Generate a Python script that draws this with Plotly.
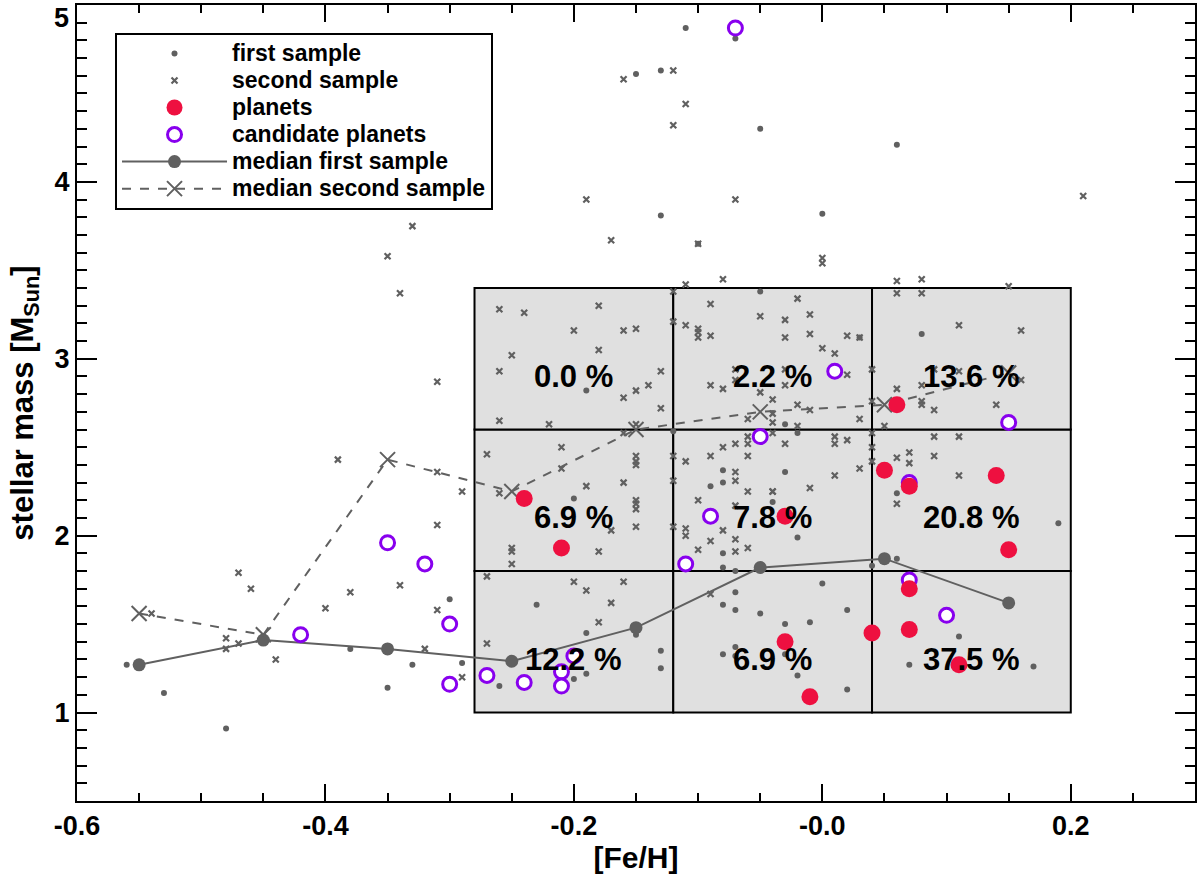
import plotly.graph_objects as go

# [Fe/H] vs stellar mass
first_feh = [-0.56, -0.53, -0.48, -0.38, -0.35, -0.33, -0.30, -0.29,
             -0.07, -0.11, -0.15, -0.13, -0.05, 0.06, -0.13, 0.0, -0.10, -0.05,
             -0.19, -0.12, -0.20, -0.08, -0.08, -0.09, -0.08, -0.08, -0.07, -0.23,
             -0.19, -0.15, -0.13, -0.13, -0.19, -0.20, -0.26, -0.07, -0.08, -0.07,
             -0.05, -0.08, -0.07, -0.07,
             0.03, -0.03, -0.02, -0.03, -0.02, -0.04, 0.08, 0.06, 0.19, 0.06, 0.04,
             0.0, 0.02, -0.03, -0.01, -0.03, -0.02, 0.02, 0.11, 0.07, 0.17]
first_mass = [1.27, 1.11, 0.91, 1.36, 1.14, 1.27, 1.64, 1.28,
              4.81, 4.87, 4.61, 4.63, 4.30, 4.21, 3.81, 3.82, 3.65, 3.38,
              2.82, 2.59, 2.21, 2.37, 2.30, 2.28, 1.90, 1.82, 1.80, 1.61,
              1.45, 1.44, 1.35, 1.25, 1.22, 1.19, 1.15, 1.68, 1.61, 1.58,
              1.56, 1.33, 1.37, 1.32,
              3.12, 2.63, 2.58, 2.36, 1.99, 2.19, 3.14, 2.24, 2.07, 1.87, 1.83,
              1.73, 1.58, 1.50, 1.51, 1.33, 1.21, 1.13, 1.43, 1.27, 1.26]

second_feh = [-0.33, -0.35, -0.34, -0.31, -0.39, -0.31, -0.29, -0.31, -0.47, -0.46,
              -0.34, -0.38, -0.40, -0.31, -0.54, -0.48, -0.48, -0.47, -0.44, -0.32, -0.29,
              -0.16, -0.12, -0.11, -0.12, -0.19, -0.07, 0.21, -0.17, -0.10, 0.0, 0.0,
              -0.08, -0.11, 0.06, 0.08, 0.15, -0.12, 0.06, 0.08, -0.02,
              -0.26, -0.24, -0.18, -0.20, -0.16, -0.15, -0.18, -0.25, -0.26, -0.13,
              -0.14, -0.15, -0.16, -0.13, -0.26, -0.22, -0.12, -0.11, -0.10, -0.10,
              -0.10, -0.09, -0.09, -0.05, -0.09, -0.08, -0.07, -0.07, -0.05, -0.06,
              -0.16, -0.15, -0.27, -0.21, -0.21, -0.15, -0.15, -0.15, -0.26, -0.19,
              -0.16, -0.15, -0.15, -0.15, -0.15, -0.17, -0.25, -0.25, -0.25, -0.18,
              -0.12, -0.12, -0.12, -0.11, -0.11, -0.11, -0.10, -0.09, -0.08, -0.07,
              -0.06, -0.06, -0.06, -0.07, -0.07, -0.06, -0.04, -0.07, -0.08, -0.09,
              -0.07, -0.06, -0.07, -0.10, -0.27, -0.20, -0.19, -0.16, -0.17, -0.18,
              -0.27, -0.09,
              -0.03, -0.01, -0.03, -0.01, 0.0, 0.01, 0.02, 0.03, -0.03, -0.03, 0.02,
              0.04, -0.04, -0.04, -0.04, -0.02, -0.01, 0.03, 0.04, -0.02, -0.04, -0.03,
              0.01, 0.01, 0.02, 0.04, 0.04, 0.04, 0.03, 0.01, -0.04, -0.01, 0.05, 0.06,
              0.08, 0.08, 0.08, 0.09, 0.09, 0.11, 0.11, 0.14, 0.16, 0.16, 0.09, 0.11,
              0.06, 0.07, 0.07, 0.09, 0.11, 0.06]
second_mass = [3.75, 3.58, 3.37, 2.87, 2.43, 2.36, 2.25, 2.06, 1.79, 1.70,
               1.72, 1.68, 1.59, 1.58, 1.56, 1.42, 1.36, 1.39, 1.30, 1.36, 1.20,
               4.58, 4.63, 4.44, 4.32, 3.90, 3.90, 3.92, 3.67, 3.65, 3.57, 3.54,
               3.45, 3.42, 3.44, 3.45, 3.41, 3.38, 3.37, 3.37, 3.34,
               3.28, 3.26, 3.30, 3.16, 3.16, 3.17, 3.05, 3.02, 2.93, 2.93,
               2.85, 2.82, 2.78, 2.72, 2.65, 2.63, 3.21, 3.19, 3.17, 3.15,
               3.12, 3.13, 3.31, 3.24, 2.85, 2.83, 2.94, 2.88, 2.81, 2.66,
               2.58, 2.63, 2.46, 2.50, 2.38, 2.45, 2.42, 2.40, 2.24, 2.28,
               2.30, 2.20, 2.18, 2.15, 2.05, 2.03, 1.93, 1.91, 1.84, 1.91,
               2.45, 2.31, 2.05, 2.42, 2.04, 2.00, 2.20, 2.45, 2.50, 2.52,
               2.56, 2.52, 2.45, 2.36, 2.31, 2.25, 2.25, 2.17, 2.03, 1.97,
               1.98, 1.93, 1.91, 1.92, 1.77, 1.74, 1.69, 1.74, 1.62, 1.51,
               1.39, 1.67,
               3.22, 3.25, 3.12, 3.14, 3.06, 3.03, 3.13, 3.12, 2.94, 2.85, 2.91,
               2.94, 2.77, 2.69, 2.64, 2.74, 2.71, 2.66, 2.76, 2.62, 2.58, 2.52,
               2.56, 2.52, 2.54, 2.58, 2.50, 2.42, 2.38, 2.34, 2.25, 2.27, 2.62, 2.83,
               2.85, 2.76, 2.74, 2.71, 2.94, 2.93, 3.19, 2.74, 3.16, 2.88, 2.56, 2.56,
               2.44, 2.47, 2.41, 2.45, 2.34, 2.18]

planet_feh = [-0.24, -0.21, 0.06, 0.05, 0.07, 0.14, 0.15, -0.03, 0.07, 0.04, 0.07, -0.03, 0.11, -0.01]
planet_mass = [2.21, 1.93, 2.74, 2.37, 2.28, 2.34, 1.92, 2.11, 1.70, 1.45, 1.47, 1.40, 1.27, 1.09]

cand_feh = [-0.42, -0.35, -0.32, -0.30, -0.30, -0.27, -0.24, -0.21, -0.21, -0.20,
            -0.11, -0.09, -0.05, 0.01, 0.15, 0.07, 0.07, 0.10, -0.07]
cand_mass = [1.44, 1.96, 1.84, 1.50, 1.16, 1.21, 1.17, 1.23, 1.15, 1.32,
             1.84, 2.11, 2.56, 2.93, 2.64, 2.30, 1.75, 1.55, 4.87]

median_feh = [-0.55, -0.45, -0.35, -0.25, -0.15, -0.05, 0.05, 0.15]
median_first = [1.27, 1.41, 1.36, 1.29, 1.48, 1.82, 1.87, 1.62]
median_second = [1.56, 1.44, 2.43, 2.25, 2.60, 2.70, 2.74, 2.92]

# bins and planet fraction per bin (rows: low -> high mass)
feh_edges = [-0.28, -0.12, 0.04, 0.2]
mass_edges = [1.0, 1.8, 2.6, 3.4]
fractions = [[12.2, 6.9, 37.5],
             [6.9, 7.8, 20.8],
             [0.0, 2.2, 13.6]]

mass_ticks = [1, 2, 3, 4, 5]
mass_range = [0.5, 5.0]

GREY = "#606060"
FONT = "Liberation Sans, Arial, Helvetica, sans-serif"


def lg(name):
    # bigger legend text while keeping the rows tight
    return f"<span style='font-size:23px'>{name}</span>"


fig = go.Figure()

fig.add_trace(go.Scatter(x=first_feh, y=first_mass, mode="markers", name=lg("first sample"),
                         marker=dict(color=GREY, size=6), legendrank=1))
fig.add_trace(go.Scatter(x=second_feh, y=second_mass, mode="markers", name=lg("second sample"),
                         marker=dict(symbol="x-thin", size=6, line=dict(color=GREY, width=2.2)),
                         legendrank=2))
fig.add_trace(go.Scatter(x=median_feh, y=median_first, mode="lines+markers", name=lg("median first sample"),
                         line=dict(color=GREY, width=2), marker=dict(color=GREY, size=13),
                         legendrank=5))
fig.add_trace(go.Scatter(x=median_feh, y=median_second, mode="lines+markers", name=lg("median second sample"),
                         line=dict(color=GREY, width=2, dash="dash"),
                         marker=dict(symbol="x-thin", size=15, line=dict(color=GREY, width=2)),
                         legendrank=6))
fig.add_trace(go.Scatter(x=cand_feh, y=cand_mass, mode="markers", name=lg("candidate planets"),
                         marker=dict(color="white", size=14, line=dict(color="#8800ee", width=3)),
                         legendrank=4))
fig.add_trace(go.Scatter(x=planet_feh, y=planet_mass, mode="markers", name=lg("planets"),
                         marker=dict(color="#ee1040", size=17), legendrank=3))

# grey bin boxes + percentages
for i in range(len(mass_edges) - 1):
    for j in range(len(feh_edges) - 1):
        fig.add_shape(type="rect", x0=feh_edges[j], x1=feh_edges[j + 1],
                      y0=mass_edges[i], y1=mass_edges[i + 1],
                      fillcolor="#e0e0e0", line=dict(color="black", width=2), layer="below")
        fig.add_annotation(x=(feh_edges[j] + feh_edges[j + 1]) / 2,
                           y=(mass_edges[i] + mass_edges[i + 1]) / 2 - 0.1,
                           text=f"{fractions[i][j]:.1f} %", showarrow=False,
                           font=dict(family=FONT, size=31, color="black", weight="bold"))

tick_font = dict(family=FONT, size=27, color="black", weight="bold")
axis_common = dict(showline=True, linecolor="black", linewidth=2, mirror="ticks",
                   ticks="inside", tickcolor="black", tickwidth=2, showgrid=False,
                   zeroline=False, tickfont=tick_font)

fig.update_xaxes(range=[-0.6, 0.3], tickvals=[-0.6, -0.4, -0.2, 0.0, 0.2],
                 ticktext=["-0.6", "-0.4", "-0.2", "-0.0", "0.2"], ticklen=17,
                 minor=dict(dtick=0.05, ticks="inside", ticklen=8, tickcolor="black", tickwidth=2),
                 title=dict(text="[Fe/H]", standoff=6,
                            font=dict(family=FONT, size=30, color="black", weight="bold")),
                 **axis_common)
# the top label sits on the frame edge, so it is placed just inside the figure
fig.update_yaxes(range=mass_range, tickvals=mass_ticks[:-1], ticklen=20,
                 minor=dict(dtick=0.1, ticks="inside", ticklen=10, tickcolor="black", tickwidth=2),
                 title=dict(text="stellar mass [M<sub>Sun</sub>]", standoff=12,
                            font=dict(family=FONT, size=31, color="black", weight="bold")),
                 **axis_common)
fig.add_annotation(x=0, xref="paper", y=mass_ticks[-1], yref="y", text=str(mass_ticks[-1]),
                   showarrow=False, xanchor="right", yanchor="top", xshift=-6, yshift=4,
                   font=tick_font)

fig.update_layout(
    width=1200, height=885,
    margin=dict(l=77, r=3, t=4, b=84),
    plot_bgcolor="white", paper_bgcolor="white",
    legend=dict(x=0.034, y=0.965, xanchor="left", yanchor="top",
                bordercolor="black", borderwidth=2, bgcolor="white",
                itemwidth=105, tracegroupgap=0,
                font=dict(family=FONT, size=18.5, color="black", weight="bold")),
)

fig.write_html("out.html", config={"displayModeBar": False},
               post_script="document.body.style.margin='0';document.body.style.overflow='hidden';")
